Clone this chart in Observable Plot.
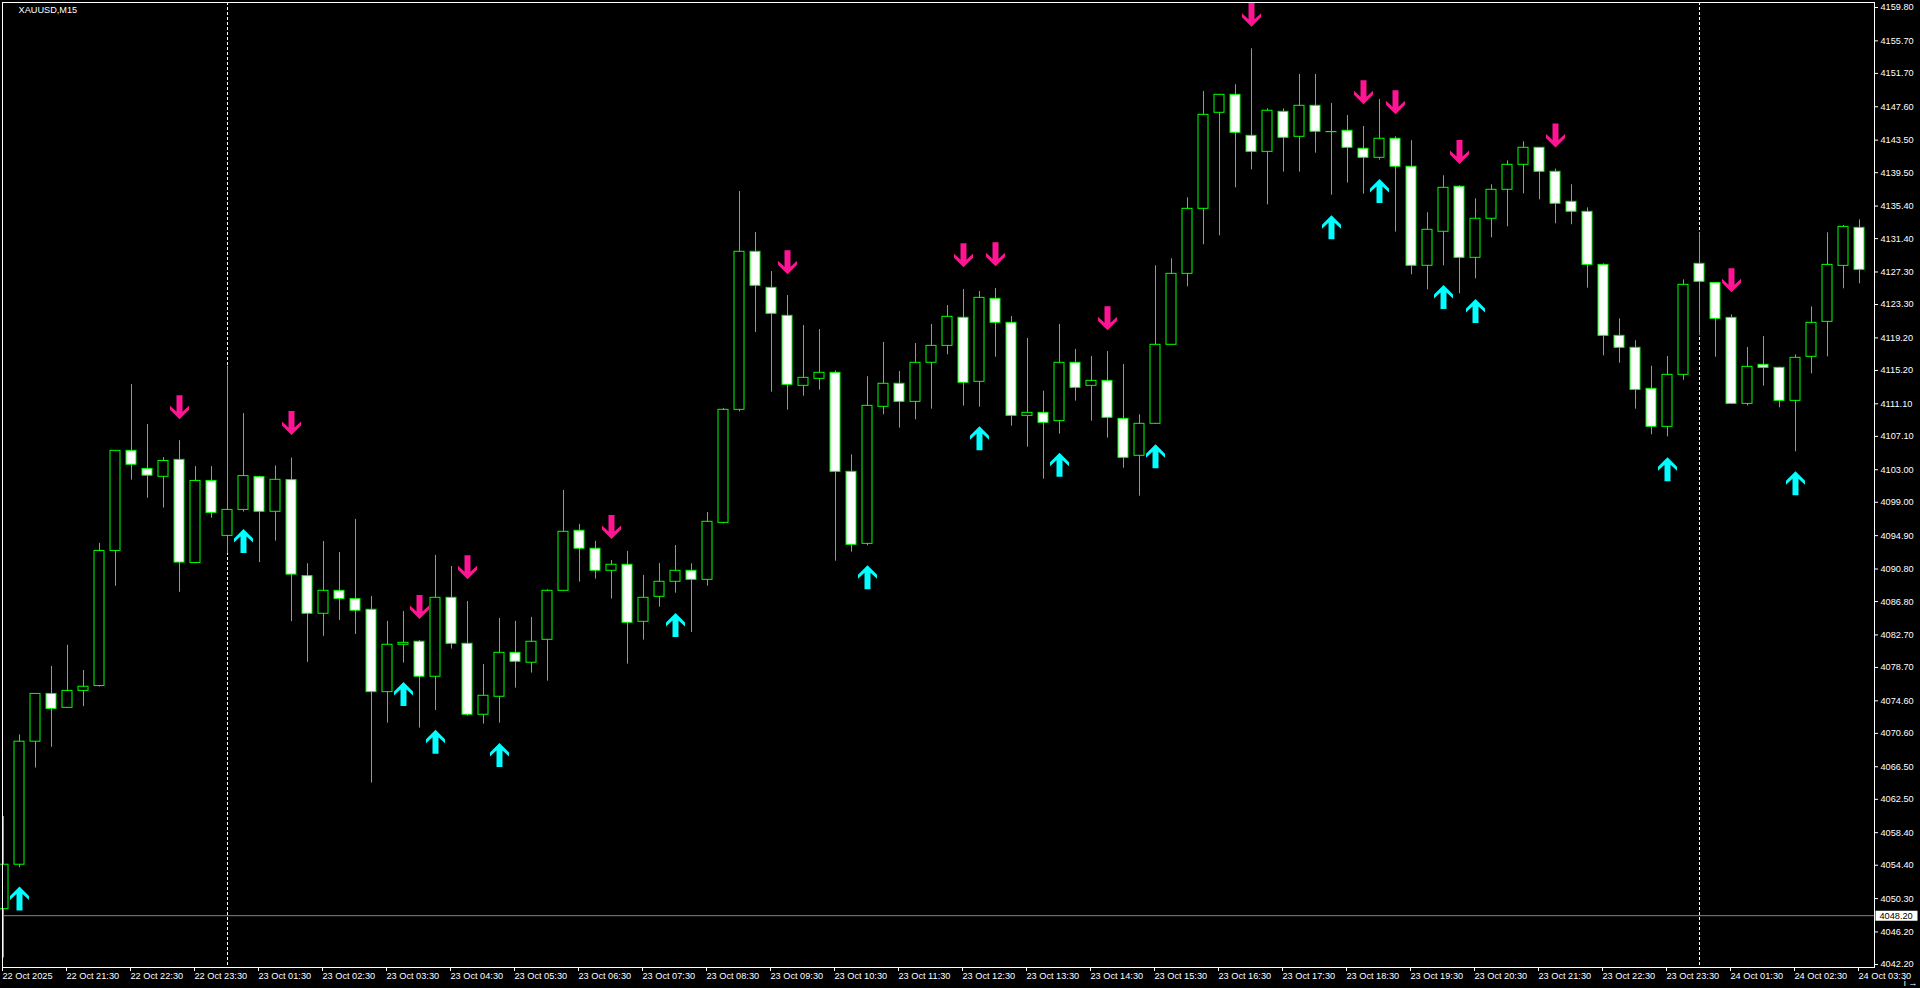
<!DOCTYPE html>
<html><head><meta charset="utf-8">
<script src="https://cdn.jsdelivr.net/npm/d3@7"></script>
<script src="https://cdn.jsdelivr.net/npm/@observablehq/plot@0.6"></script>
<style>html,body{margin:0;padding:0;background:#000;overflow:hidden}svg{display:block}</style>
</head><body>
<script>
// ---- data (XAUUSD, M15) ----
const symbolName = "XAUUSD,M15";
const opens = [4049.00,4054.46,4069.58,4075.45,4073.74,4075.82,4076.42,4093.02,4105.32,4103.10,4102.13,4104.21,4091.54,4101.62,4094.87,4098.06,4102.09,4097.83,4101.72,4089.92,4085.30,4088.12,4087.10,4085.79,4075.67,4081.49,4081.86,4077.56,4087.26,4081.61,4072.89,4075.10,4080.50,4079.28,4082.10,4088.12,4095.50,4093.29,4090.58,4091.32,4084.31,4087.38,4089.23,4090.58,4089.47,4096.47,4110.36,4129.78,4125.35,4121.91,4113.31,4114.17,4114.91,4102.74,4093.89,4110.73,4113.56,4111.34,4116.14,4118.22,4121.67,4113.80,4124.00,4121.05,4109.62,4109.99,4108.97,4116.14,4113.31,4113.92,4109.25,4104.71,4108.64,4118.35,4127.07,4135.06,4146.86,4149.07,4144.03,4142.06,4146.98,4143.91,4147.72,4144.50,4144.65,4142.44,4141.33,4143.67,4140.23,4128.06,4132.24,4137.77,4129.04,4133.84,4137.40,4140.47,4142.56,4139.61,4135.92,4134.69,4128.17,4119.45,4117.98,4112.94,4108.27,4114.66,4128.30,4125.96,4121.66,4111.09,4115.89,4115.52,4111.46,4116.87,4121.17,4128.05,4132.72];
const highs = [4060.38,4070.41,4075.50,4078.83,4081.42,4078.32,4093.95,4105.32,4113.46,4108.56,4104.49,4106.57,4103.38,4103.38,4115.73,4109.90,4102.20,4103.47,4104.44,4091.45,4094.18,4092.83,4096.89,4087.43,4084.36,4085.58,4082.02,4092.47,4091.11,4086.81,4079.07,4084.72,4084.36,4084.85,4088.25,4100.45,4096.28,4094.19,4091.85,4092.96,4090.01,4091.48,4093.69,4091.44,4097.75,4110.52,4137.19,4132.15,4127.36,4124.41,4120.72,4120.23,4115.15,4104.83,4114.42,4118.64,4115.07,4118.51,4120.85,4123.18,4125.15,4124.90,4125.27,4121.83,4119.13,4112.65,4120.85,4117.78,4116.92,4117.53,4115.93,4109.75,4128.06,4128.92,4136.41,4149.48,4149.10,4150.30,4154.72,4147.35,4147.35,4151.57,4151.57,4148.01,4146.53,4145.18,4148.50,4143.91,4143.42,4134.57,4139.12,4137.89,4136.29,4138.01,4140.96,4143.30,4142.60,4139.94,4138.01,4135.18,4128.30,4121.54,4118.84,4115.72,4116.91,4126.33,4132.11,4126.00,4122.03,4118.02,4119.37,4115.60,4117.12,4123.01,4132.11,4133.01,4133.70];
const lows = [4043.00,4054.09,4066.34,4068.89,4073.70,4073.88,4076.28,4088.68,4101.72,4099.50,4098.29,4087.94,4091.45,4097.05,4092.70,4097.80,4091.59,4094.23,4084.33,4079.33,4082.53,4084.48,4082.76,4064.49,4071.86,4079.24,4071.25,4073.42,4080.96,4072.72,4071.74,4071.86,4076.16,4078.01,4077.02,4088.10,4089.19,4089.56,4087.10,4079.11,4082.06,4086.11,4087.83,4083.00,4088.69,4096.35,4110.11,4119.86,4112.53,4110.32,4112.04,4112.78,4091.76,4092.87,4093.65,4109.75,4108.11,4109.13,4110.44,4117.12,4110.81,4110.69,4116.83,4108.35,4105.77,4101.84,4107.37,4111.43,4108.97,4106.88,4103.19,4099.75,4108.60,4118.30,4125.48,4130.64,4131.74,4137.64,4139.85,4135.55,4139.57,4139.57,4141.90,4136.74,4138.22,4136.87,4141.04,4132.20,4126.95,4125.11,4128.06,4124.62,4126.46,4131.50,4132.85,4136.91,4136.17,4133.22,4133.10,4125.31,4116.99,4116.09,4110.44,4107.29,4107.04,4114.00,4119.45,4116.83,4111.00,4110.85,4113.27,4110.60,4105.20,4114.78,4116.87,4125.23,4125.84];
const closes = [4054.46,4069.58,4075.45,4073.60,4075.82,4076.33,4093.02,4105.32,4103.61,4102.27,4104.07,4091.59,4101.62,4097.69,4098.06,4102.22,4097.83,4101.76,4090.11,4085.30,4088.12,4087.10,4085.67,4075.67,4081.49,4081.73,4077.56,4087.26,4081.61,4072.89,4075.22,4080.50,4079.40,4081.86,4088.12,4095.37,4093.29,4090.58,4091.32,4084.19,4087.26,4089.23,4090.58,4089.47,4096.60,4110.36,4129.78,4125.60,4122.16,4113.43,4114.29,4114.91,4102.74,4093.77,4110.85,4113.56,4111.34,4116.14,4118.22,4121.79,4113.68,4124.12,4121.05,4109.62,4109.99,4108.76,4116.14,4113.06,4113.92,4109.38,4104.46,4108.64,4118.35,4127.07,4135.06,4146.61,4149.07,4144.40,4142.06,4147.11,4143.79,4147.72,4144.53,4144.48,4142.56,4141.33,4143.67,4140.23,4128.06,4132.48,4137.64,4129.04,4133.84,4137.40,4140.47,4142.56,4139.61,4135.68,4134.70,4128.17,4119.45,4117.98,4112.81,4108.27,4114.66,4125.72,4126.09,4121.54,4111.09,4115.64,4115.52,4111.46,4116.75,4121.05,4128.17,4132.84,4127.56];

// signal arrows (bar index, price)
const upArrowBars   = [1, 15, 25, 27, 31, 42, 54, 61, 66, 72, 83, 86, 90, 92, 104, 112];
const upArrowPrices = [4050.3, 4094.23, 4075.43, 4069.57, 4067.93, 4083.92, 4089.8, 4106.88, 4103.6, 4104.67, 4132.81, 4137.24, 4124.21, 4122.49, 4103.07, 4101.35];
const downArrowBars   = [11, 18, 26, 29, 38, 49, 60, 62, 69, 78, 85, 87, 91, 97, 108];
const downArrowPrices = [4110.68, 4108.74, 4086.12, 4091.03, 4095.95, 4128.5, 4129.37, 4129.49, 4121.62, 4158.9, 4149.4, 4148.17, 4142.03, 4144.08, 4126.29];

// day separators (bar index of first bar of a new day)
const daySeparators = [14, 106];
const bidPrice = 4048.20;

// axis ticks
const xTickBars = [0,4,8,12,16,20,24,28,32,36,40,44,48,52,56,60,64,68,72,76,80,84,88,92,96,100,104,108,112,116];
const xTickLabels = ["22 Oct 2025","22 Oct 21:30","22 Oct 22:30","22 Oct 23:30","23 Oct 01:30","23 Oct 02:30","23 Oct 03:30","23 Oct 04:30","23 Oct 05:30","23 Oct 06:30","23 Oct 07:30","23 Oct 08:30","23 Oct 09:30","23 Oct 10:30","23 Oct 11:30","23 Oct 12:30","23 Oct 13:30","23 Oct 14:30","23 Oct 15:30","23 Oct 16:30","23 Oct 17:30","23 Oct 18:30","23 Oct 19:30","23 Oct 20:30","23 Oct 21:30","23 Oct 22:30","23 Oct 23:30","24 Oct 01:30","24 Oct 02:30","24 Oct 03:30"];
const yTicks = [4159.80,4155.70,4151.70,4147.60,4143.50,4139.50,4135.40,4131.40,4127.30,4123.30,4119.20,4115.20,4111.10,4107.10,4103.00,4099.00,4094.90,4090.80,4086.80,4082.70,4078.70,4074.60,4070.60,4066.50,4062.50,4058.40,4054.40,4050.30,4046.20,4042.20];

// ---- build ----
const bars = opens.map((o, i) => ({i, open: o, high: highs[i], low: lows[i], close: closes[i]}));
const bull = bars.filter(d => d.close >= d.open);
const bear = bars.filter(d => d.close < d.open);
const ups = upArrowBars.map((b, k) => ({i: b, p: upArrowPrices[k]}));
const downs = downArrowBars.map((b, k) => ({i: b, p: downArrowPrices[k]}));
const labelOf = new Map(xTickBars.map((b, k) => [b, xTickLabels[k]]));

const halfBody = 0.3125;
const upShape = [[0,-12],[9.5,-2.5],[9.5,1.5],[3,-4.5],[3,12],[-3,12],[-3,-4.5],[-9.5,1.5],[-9.5,-2.5]];
function shapeSymbol(pts) {
  return {draw(ctx) {
    pts.forEach(([x, y], k) => k ? ctx.lineTo(x, y) : ctx.moveTo(x, y));
    ctx.closePath();
  }};
}
const upArrow = shapeSymbol(upShape);
const downArrow = shapeSymbol(upShape.map(([x, y]) => [x, -y]));
const priceBox = {draw(ctx) { ctx.moveTo(1, -5); ctx.lineTo(43, -5); ctx.lineTo(43, 5); ctx.lineTo(1, 5); ctx.closePath(); }};

const green = "#00ff00";
const chart = Plot.plot({
  width: 1920, height: 988,
  marginLeft: 2, marginTop: 2, marginRight: 46, marginBottom: 21,
  style: {background: "#000", color: "#fff", fontFamily: "'Liberation Sans', Arial, sans-serif", fontSize: "9.2px"},
  x: {type: "linear", domain: [0, 116], range: [3, 1859]},
  y: {type: "linear", domain: [4042.2, 4159.8], range: [964, 7]},
  marks: [
    Plot.ruleY([bidPrice], {stroke: "#778899"}),
    Plot.ruleX(daySeparators, {stroke: "#fff", strokeDasharray: "3,2"}),
    Plot.ruleX(bars, {x: "i", y1: "low", y2: "high", stroke: green}),
    Plot.rect(bull, {x1: d => d.i - halfBody, x2: d => d.i + halfBody, y1: "open", y2: "close", fill: "#000", stroke: green}),
    Plot.rect(bear, {x1: d => d.i - halfBody, x2: d => d.i + halfBody, y1: "open", y2: "close", fill: "#fff", stroke: green}),
    Plot.dot(ups, {x: "i", y: "p", symbol: upArrow, fill: "#00ffff", stroke: "none"}),
    Plot.dot(downs, {x: "i", y: "p", symbol: downArrow, fill: "#ff1493", stroke: "none"}),
    Plot.frame({stroke: "#fff"}),
    Plot.axisY({anchor: "right", ticks: yTicks, tickFormat: d => d.toFixed(2), tickSize: 3, tickPadding: 3}),
    Plot.axisX({anchor: "bottom", ticks: xTickBars, tickFormat: b => labelOf.get(b), tickSize: 4, tickPadding: 1, textAnchor: "start", dx: -1}),
    Plot.dot([bidPrice], {y: d => d, frameAnchor: "right", symbol: priceBox, fill: "#fff", stroke: "none"}),
    Plot.text([bidPrice], {y: d => d, frameAnchor: "right", dx: 5, text: d => d.toFixed(2), textAnchor: "start", fill: "#000"}),
    Plot.text([symbolName], {frameAnchor: "top-left", dx: 16, dy: 4, lineAnchor: "top", textAnchor: "start", fill: "#fff"})
  ]
});
document.body.appendChild(chart);
</script>
</body></html>
